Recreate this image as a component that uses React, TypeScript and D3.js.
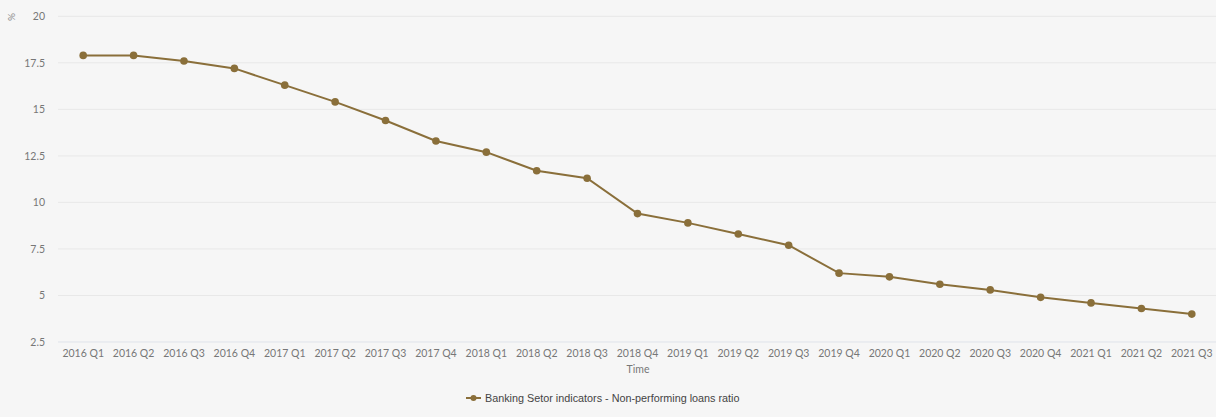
import React from "react";
import * as d3 from "d3";

const categories = [
  "2016 Q1", "2016 Q2", "2016 Q3", "2016 Q4",
  "2017 Q1", "2017 Q2", "2017 Q3", "2017 Q4",
  "2018 Q1", "2018 Q2", "2018 Q3", "2018 Q4",
  "2019 Q1", "2019 Q2", "2019 Q3", "2019 Q4",
  "2020 Q1", "2020 Q2", "2020 Q3", "2020 Q4",
  "2021 Q1", "2021 Q2", "2021 Q3",
];
const npl = [
  17.9, 17.9, 17.6, 17.2,
  16.3, 15.4, 14.4, 13.3,
  12.7, 11.7, 11.3, 9.4,
  8.9, 8.3, 7.7, 6.2,
  6.0, 5.6, 5.3, 4.9,
  4.6, 4.3, 4.0,
];
const yTicks = [2.5, 5, 7.5, 10, 12.5, 15, 17.5, 20];
const seriesName = "Banking Setor indicators - Non-performing loans ratio";

const W = 1216;
const H = 417;
const plotLeft = 58;
const plotRight = 1217;
const plotTop = 16.3;
const plotBottom = 342;
const lineColor = "#8a6f3a";

export default function App() {
  const x = d3.scaleBand<string>().domain(categories).range([plotLeft, plotRight]);
  const y = d3.scaleLinear().domain([2.5, 20]).range([plotBottom, plotTop]);
  const cx = (c: string) => (x(c) as number) + x.bandwidth() / 2;
  const line = d3
    .line<number>()
    .x((_, i) => cx(categories[i]))
    .y((d) => y(d));

  return (
    <svg
      width={W}
      height={H}
      style={{ position: "fixed", left: 0, top: 0, background: "#f6f6f6" }}
    >
      <rect x={0} y={0} width={W} height={H} fill="#f6f6f6" />
      {yTicks.map((t) => (
        <g key={t}>
          <line
            x1={plotLeft}
            x2={W}
            y1={y(t)}
            y2={y(t)}
            stroke={t === 2.5 ? "#dfe3ea" : "#e8e8e8"}
            strokeWidth={1}
          />
          <text
            x={45}
            y={y(t)}
            dy="0.35em"
            textAnchor="end"
            fontFamily="Lato, 'Open Sans', sans-serif"
            fontSize={10.5}
            fill="#777"
          >
            {t}
          </text>
        </g>
      ))}
      <text
        x={12}
        y={17}
        transform="rotate(-90 12 17)"
        textAnchor="middle"
        dominantBaseline="middle"
        fontFamily="Lato, sans-serif"
        fontSize={10}
        fill="#888"
      >
        %
      </text>
      {categories.map((c) => (
        <text
          key={c}
          x={cx(c)}
          y={357}
          textAnchor="middle"
          fontFamily="Lato, 'Open Sans', sans-serif"
          fontSize={10.5}
          fill="#777"
        >
          {c}
        </text>
      ))}
      <text
        x={638}
        y={373}
        textAnchor="middle"
        fontFamily="Lato, 'Open Sans', sans-serif"
        fontSize={10.5}
        fill="#777"
      >
        Time
      </text>
      <path d={line(npl) || ""} fill="none" stroke={lineColor} strokeWidth={2} />
      {npl.map((v, i) => (
        <circle key={i} cx={cx(categories[i])} cy={y(v)} r={3.8} fill={lineColor} />
      ))}
      <g>
        <line x1={466} x2={481} y1={398} y2={398} stroke={lineColor} strokeWidth={2} />
        <circle cx={473.5} cy={398} r={3} fill={lineColor} />
        <text
          x={485}
          y={398}
          dy="0.35em"
          fontFamily="'Liberation Sans', Arial, sans-serif"
          fontSize={10.8}
          fill="#444"
        >
          {seriesName}
        </text>
      </g>
    </svg>
  );
}
